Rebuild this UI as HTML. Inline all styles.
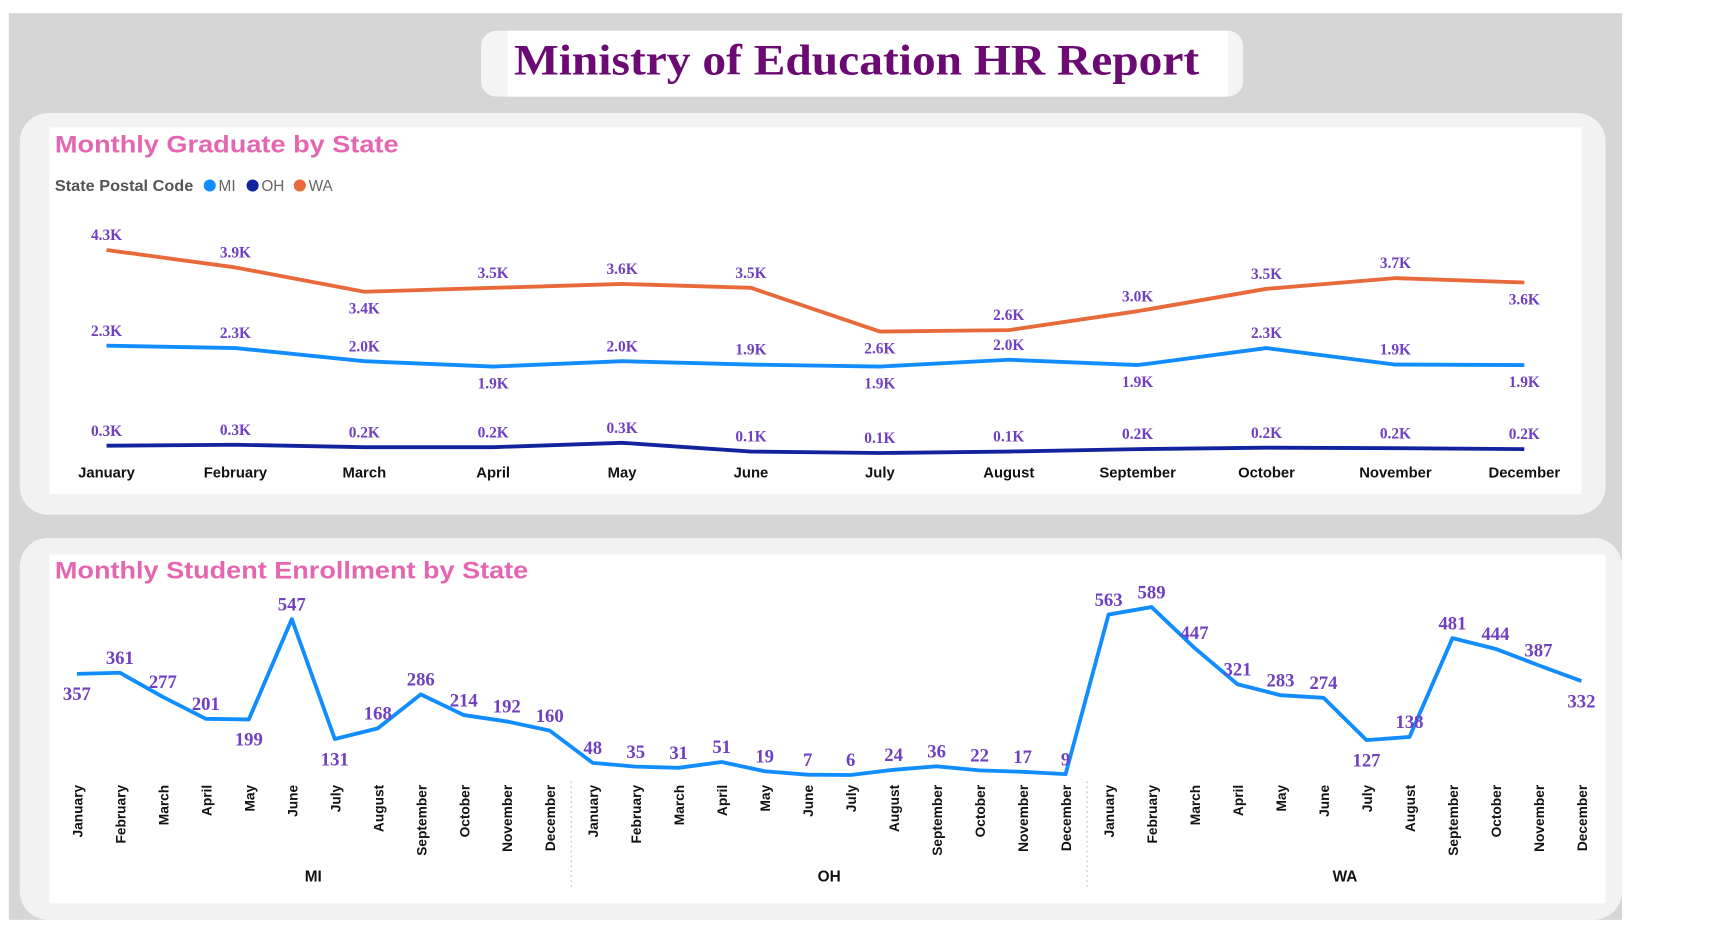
<!DOCTYPE html>
<html><head><meta charset="utf-8"><style>
html,body{margin:0;padding:0;background:#fff;width:1722px;height:944px;overflow:hidden}
svg{display:block}
</style></head><body>
<svg id="root" width="1722" height="944" viewBox="0 0 1568 860" preserveAspectRatio="none" xmlns="http://www.w3.org/2000/svg">
<rect x="8" y="12" width="1469" height="826" fill="#d6d6d6"/>
<rect x="438" y="28" width="694" height="60" rx="14" fill="#f4f4f4"/>
<rect x="462" y="28" width="656" height="60" fill="#ffffff"/>
<text x="780" y="68" text-anchor="middle" font-family="Liberation Serif, serif" font-weight="bold" font-size="40" fill="#6b0a73" textLength="624" lengthAdjust="spacingAndGlyphs">Ministry of Education HR Report</text>

<rect x="18" y="103" width="1444" height="366" rx="26" fill="#f2f2f2"/>
<rect x="45" y="116" width="1395" height="334" fill="#ffffff"/>
<text x="50" y="139" font-family="Liberation Sans, sans-serif" font-weight="bold" font-size="22" fill="#e566b0" textLength="313" lengthAdjust="spacingAndGlyphs">Monthly Graduate by State</text>
<g font-family="Liberation Sans, sans-serif" font-size="14">
<text x="50" y="174" font-weight="bold" fill="#555" textLength="126" lengthAdjust="spacingAndGlyphs">State Postal Code</text>
<circle cx="191" cy="169" r="5.5" fill="#118dff"/><text x="199" y="174" fill="#666">MI</text>
<circle cx="230" cy="169" r="5.5" fill="#12239e"/><text x="238" y="174" fill="#666">OH</text>
<circle cx="273" cy="169" r="5.5" fill="#e8693a"/><text x="281" y="174" fill="#666">WA</text>
</g>
<g id="g1"></g>

<rect x="18" y="490" width="1459" height="348" rx="26" fill="#f2f2f2"/>
<rect x="45" y="505" width="1417" height="318" fill="#ffffff"/>
<text x="50" y="527" font-family="Liberation Sans, sans-serif" font-weight="bold" font-size="22" fill="#e566b0" textLength="431" lengthAdjust="spacingAndGlyphs">Monthly Student Enrollment by State</text>
<g id="g2"></g>
</svg>
<script>
const months = ["January","February","March","April","May","June","July","August","September","October","November","December"];
const waGrad = [4.30,3.94,3.44,3.52,3.60,3.52,2.62,2.65,3.04,3.50,3.72,3.63];
const miGrad = [2.33,2.28,2.01,1.90,2.01,1.94,1.90,2.04,1.93,2.28,1.94,1.93];
const ohGrad = [0.27,0.29,0.24,0.24,0.33,0.15,0.12,0.15,0.20,0.23,0.22,0.20];
const states = ["MI","OH","WA"];
const miEnroll = [357,361,277,201,199,547,131,168,286,214,192,160];
const ohEnroll = [48,35,31,51,19,7,6,24,36,22,17,9];
const waEnroll = [563,589,447,321,283,274,127,138,481,444,387,332];

const NS="http://www.w3.org/2000/svg";
function mk(tag,attrs,parent){const e=document.createElementNS(NS,tag);for(const k in attrs)e.setAttribute(k,attrs[k]);parent.appendChild(e);return e;}
function isMin(a,i){return (i===0||a[i]<=a[i-1])&&(i===a.length-1||a[i]<=a[i+1]);}

// Chart 1
const g1=document.getElementById('g1');
const x1=i=>97+i*(1388-97)/11;
const y1=v=>418-v*44.25;
[["wa",waGrad,"#e8693a",true],["mi",miGrad,"#118dff",true],["oh",ohGrad,"#12239e",false]].forEach(([n,arr,col,flip])=>{
  const p=mk('polyline',{points:arr.map((v,i)=>x1(i)+","+y1(v)).join(" "),fill:"none",stroke:col,"stroke-width":3.5,"stroke-linejoin":"round"},g1);
  
  
  arr.forEach((v,i)=>{
    const below=flip&&isMin(arr,i);
    const t=mk('text',{x:x1(i),y:below?y1(v)+20:y1(v)-9,"text-anchor":"middle","font-family":"Liberation Serif, serif","font-weight":"bold","font-size":14,fill:"#7040c0"},g1);
    t.textContent=v.toFixed(1)+"K";
    
    
  });
});
months.forEach((m,i)=>{
  const t=mk('text',{x:x1(i),y:435,"text-anchor":"middle","font-family":"Liberation Sans, sans-serif","font-weight":"bold","font-size":13.5,fill:"#111"},g1);
  t.textContent=m;
  
  
});

// Chart 2
const g2=document.getElementById('g2');
const all=[...miEnroll,...ohEnroll,...waEnroll];
const x2=i=>70+i*(1440-70)/35;
const y2=v=>707.6-v*0.2624;
const line=mk('polyline',{points:all.map((v,i)=>x2(i)+","+y2(v)).join(" "),fill:"none",stroke:"#118dff","stroke-width":3.5,"stroke-linejoin":"round"},g2);


all.forEach((v,i)=>{
  const grp=Math.floor(i/12);
  const below=grp!==1&&isMin(all,i);
  const t=mk('text',{x:x2(i),y:below?y2(v)+24:y2(v)-8,"text-anchor":"middle","font-family":"Liberation Serif, serif","font-weight":"bold","font-size":17,fill:"#7040c0"},g2);
  t.textContent=v;
  
  
  const tk=mk('text',{transform:"translate("+(x2(i)+5)+",715) rotate(-90)","text-anchor":"end","font-family":"Liberation Sans, sans-serif","font-weight":"bold","font-size":12.5,fill:"#111"},g2);
  tk.textContent=months[i%12];
  
  
});
states.forEach((s,k)=>{
  const t=mk('text',{x:(x2(k*12)+x2(k*12+11))/2,y:803,"text-anchor":"middle","font-family":"Liberation Sans, sans-serif","font-weight":"bold","font-size":14,fill:"#111"},g2);
  t.textContent=s;
  
  
  if(k>0){
    const xs=(x2(k*12-1)+x2(k*12))/2;
    const l=mk('line',{x1:xs,x2:xs,y1:712,y2:810,stroke:"#bbb","stroke-dasharray":"1.5,3"},g2);
    
    
  }
});
</script>
</body></html>
